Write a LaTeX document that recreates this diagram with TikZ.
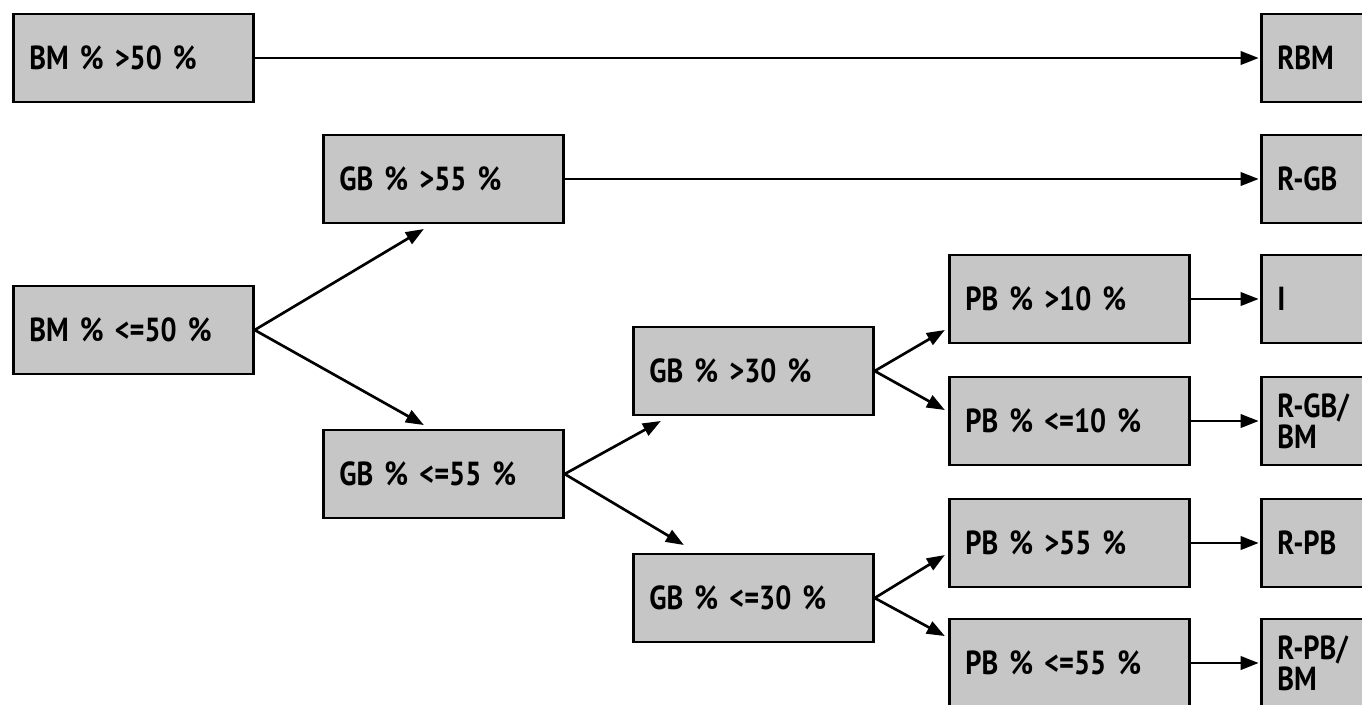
\documentclass[tikz,border=0pt]{standalone}
\usepackage{fontspec}
\setmainfont[FakeStretch=0.85]{PT Sans}
\usetikzlibrary{arrows.meta,calc}
\definecolor{boxgray}{RGB}{198,198,198}
\tikzset{
  cbox/.style={draw=black, fill=boxgray, line width=2pt, rectangle, anchor=west,
    minimum width=180pt, minimum height=66pt, inner xsep=12pt, inner ysep=0pt,
    text width=156pt, align=left, font=\fontsize{25}{23}\selectfont\bfseries},
  rbox/.style={cbox, minimum width=100pt, text width=76pt},
  arr/.style={line width=2pt, -{Triangle[length=13.5pt,width=10pt]}, shorten >=1pt}
}
\begin{document}
\begin{tikzpicture}[x=0.75pt,y=-0.75pt]
\clip (0,0) rectangle (1362,704);
\fill[white] (0,0) rectangle (1362,704);
\node[cbox] (bm1) at (12,58) {BM \% >50 \%};
\node[rbox] (rbm) at (1260,58) {RBM};
\node[cbox] (gb1) at (322,179) {GB \% >55 \%};
\node[rbox] (rgb) at (1260,179) {R-GB};
\node[cbox] (bm2) at (12,330) {BM \% <=50 \%};
\node[cbox] (gb2) at (322,474) {GB \% <=55 \%};
\node[cbox] (gb3) at (632,371) {GB \% >30 \%};
\node[cbox] (gb4) at (632,598) {GB \% <=30 \%};
\node[cbox] (pb1) at (948,299) {PB \% >10 \%};
\node[cbox] (pb2) at (948,421) {PB \% <=10 \%};
\node[cbox] (pb3) at (948,543) {PB \% >55 \%};
\node[cbox] (pb4) at (948,663) {PB \% <=55 \%};
\node[rbox] (ri) at (1260,299) {I};
\node[rbox] (rgbbm) at (1260,421) {R-GB/\\BM};
\node[rbox] (rpb) at (1260,543) {R-PB};
\node[rbox] (rpbbm) at (1260,663) {R-PB/\\BM};

\draw[arr] (bm1.east) -- (rbm.west);
\draw[arr] (gb1.east) -- (rgb.west);
\draw[arr] (bm2.east) -- ($(gb1.south west)+(103,4)$);
\draw[arr] (bm2.east) -- ($(gb2.north west)+(103,-3)$);
\draw[arr] (gb2.east) -- ($(gb3.south west)+(30,4)$);
\draw[arr] (gb2.east) -- ($(gb4.north west)+(53,-7)$);
\draw[arr] (gb3.east) -- ($(pb1.south west)+(-2,-15)$);
\draw[arr] (gb3.east) -- ($(pb2.north west)+(-2,35)$);
\draw[arr] (gb4.east) -- ($(pb3.south west)+(-2,-34)$);
\draw[arr] (gb4.east) -- ($(pb4.north west)+(-2,19)$);
\draw[arr] (pb1.east) -- (ri.west);
\draw[arr] (pb2.east) -- (rgbbm.west);
\draw[arr] (pb3.east) -- (rpb.west);
\draw[arr] (pb4.east) -- (rpbbm.west);
\end{tikzpicture}
\end{document}
